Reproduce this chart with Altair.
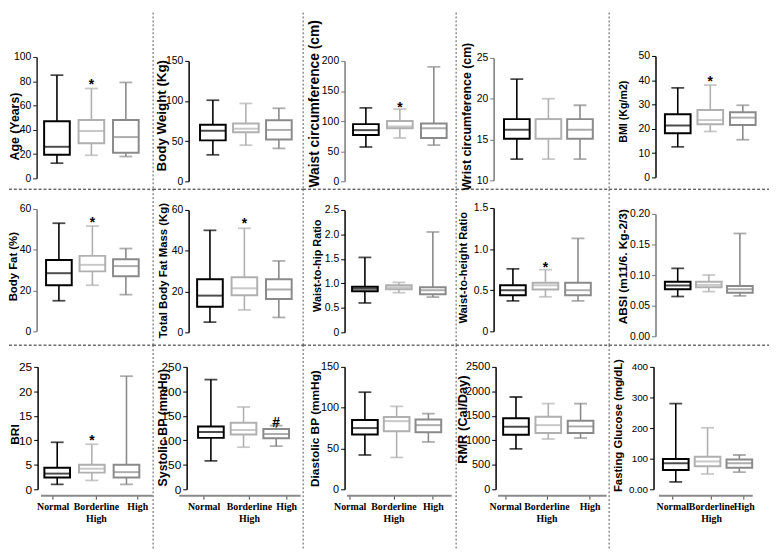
import altair as alt
import pandas as pd

groups = ["Normal", "Borderline High", "High"]
group_colors = ["#000000", "#b0b0b0", "#8a8a8a"]

# five-number summaries per group: [min, Q1, median, Q3, max]
age = [[12.5, 19.5, 26.0, 47.0, 85.0], [19.0, 29.0, 39.0, 48.0, 74.0], [18.0, 21.0, 34.0, 48.0, 79.0]]
body_weight = [[33, 51, 63, 70.5, 101], [45, 61, 65.5, 72, 97], [41, 52, 64, 76, 91]]
waist_circ = [[57, 77, 85, 95, 122], [72, 88, 91, 100, 120], [60, 72, 88, 96, 190]]
wrist_circ = [[12.6, 15.1, 16.2, 17.5, 22.4], [12.6, 15.1, 17.5, 17.5, 20.0], [12.6, 15.1, 16.2, 17.5, 19.2]]
bmi = [[12.6, 18.2, 21.4, 26.0, 36.9], [18.9, 21.9, 23.6, 27.7, 38.0], [15.5, 21.6, 24.6, 26.8, 29.7]]
body_fat = [[15.0, 22.6, 28.5, 35.0, 53.0], [22.6, 29.4, 32.6, 37.0, 51.6], [18.0, 27.0, 32.0, 35.3, 40.6]]
fat_mass = [[5.0, 12.5, 18.0, 26.0, 50.0], [11.0, 18.2, 21.6, 27.0, 51.0], [7.3, 16.3, 21.0, 26.0, 35.0]]
waist_hip = [[0.60, 0.84, 0.89, 0.93, 1.53], [0.81, 0.88, 0.92, 0.96, 1.02], [0.72, 0.78, 0.86, 0.92, 2.05]]
waist_height = [[0.37, 0.44, 0.50, 0.56, 0.76], [0.42, 0.51, 0.56, 0.59, 0.75], [0.37, 0.44, 0.50, 0.59, 1.13]]
absi = [[0.065, 0.077, 0.083, 0.089, 0.111], [0.073, 0.080, 0.084, 0.089, 0.100], [0.066, 0.071, 0.077, 0.082, 0.168]]
bri = [[1.0, 2.4, 3.2, 4.4, 9.6], [1.8, 3.4, 4.2, 5.0, 9.2], [1.0, 2.4, 3.5, 5.0, 23.1]]
systolic = [[58, 105, 117, 128, 224], [86, 112, 121, 136, 168], [88, 104, 113, 123, 130]]
diastolic = [[42, 67, 75, 85, 119], [39, 71, 83.5, 88.7, 101.6], [58, 70, 78.6, 85.5, 92.7]]
rmr = [[824, 1115, 1277, 1453, 1885], [1027, 1149, 1310, 1480, 1750], [1047, 1149, 1284, 1399, 1750]]
glucose = [[24, 63, 85, 99, 280], [50, 75, 91, 106, 201], [56, 70, 85, 97, 112]]

# significance markers: (group index, value, symbol)
age_marks = [(1, 80, "*")]
waist_marks = [(1, 129, "*")]
bmi_marks = [(1, 41, "*")]
body_fat_marks = [(1, 55, "*")]
fat_mass_marks = [(1, 55, "*")]
waist_height_marks = [(1, 0.82, "*")]
bri_marks = [(1, 10.6, "*")]
systolic_marks = [(2, 144, "#")]

# axis ticks
age_ticks = [0, 20, 40, 60, 80, 100]
bw_ticks = [0, 50, 100, 150]
waist_ticks = [0, 50, 100, 150, 200]
wrist_ticks = [10, 15, 20, 25]
bmi_ticks = [0, 10, 20, 30, 40, 50]
bf_ticks = [0, 20, 40, 60]
fm_ticks = [0, 20, 40, 60]
whr_ticks = [0, 0.5, 1.0, 1.5, 2.0, 2.5]
whtr_ticks = [0, 0.5, 1.0, 1.5]
absi_ticks = [0, 0.05, 0.10, 0.15, 0.20]
bri_ticks = [0, 5, 10, 15, 20, 25]
sbp_ticks = [0, 50, 100, 150, 200, 250]
dbp_ticks = [0, 50, 100, 150]
rmr_ticks = [0, 500, 1000, 1500, 2000, 2500]
fg_ticks = [0, 100, 200, 300, 400]

INT = "format(datum.value, 'd')"
ONE = "datum.value == 0 ? '0' : format(datum.value, '.1f')"
TWO = "format(datum.value, '.2f')"
FGF = "datum.value == 0 ? '0.00' : format(datum.value, 'd')"

col_w = [146, 152, 155, 155, 162]
row_h = [179, 158, 208]

# layout: axis_x, y_top, y_bottom, first centre, last centre, title x, title y, title size, axis colour, label size
panels = [
    [
        ("Age (Years)", age, age_ticks, age_marks, INT, (28, 45, 168, 45, 122, 6, 115, 12.5, "#222", 10.5)),
        ("Body Weight (Kg)", body_weight, bw_ticks, [], INT, (36, 49, 171, 57, 131, 9, 104, 13.5, "#000", 10.5)),
        ("Waist circumference (cm)", waist_circ, waist_ticks, waist_marks, INT, (42, 49, 171, 60, 136, 12, 92, 14, "#777", 10.5)),
        ("Wrist circumference (cm)", wrist_circ, wrist_ticks, [], INT, (38, 46, 170, 58, 129, 11, 105, 12.5, "#777", 10.5)),
        ("BMI (Kg/m2)", bmi, bmi_ticks, bmi_marks, INT, (47, 44, 167, 66, 139, 15, 100, 10.8, "#000", 10.5)),
    ],
    [
        ("Body Fat (%)", body_fat, bf_ticks, body_fat_marks, INT, (28, 20, 144, 47, 122, 5, 78, 11.5, "#777", 10.5)),
        ("Total Body Fat Mass (Kg)", fat_mass, fm_ticks, fat_mass_marks, INT, (36, 21, 145, 54, 131, 11, 82, 11.5, "#000", 10.5)),
        ("Waist-to-hip Ratio", waist_hip, whr_ticks, [], ONE, (42, 21, 145, 59, 135, 15, 77, 11, "#000", 10.5)),
        ("Waist-to-height Ratio", waist_height, whtr_ticks, waist_height_marks, ONE, (38, 19, 144, 54, 127, 8, 79, 11.3, "#000", 10.5)),
        ("ABSI (m11/6. Kg-2/3)", absi, absi_ticks, [], TWO, (47, 25, 149, 66, 136, 14, 78, 12, "#777", 10.5)),
    ],
    [
        ("BRI", bri, bri_ticks, bri_marks, INT, (29, 22, 146, 45, 122, 6, 90, 12, "#000", 12), (32, 145), (40, 88, 134)),
        ("Systolic BP (mmHg)", systolic, sbp_ticks, systolic_marks, INT, (34, 22, 146, 56, 128, 10, 83, 12.5, "#000", 12), (26, 149), (48, 98, 139)),
        ("Diastolic BP (mmHg)", diastolic, dbp_ticks, [], INT, (42, 22, 146, 59, 130, 12, 84, 12, "#000", 11), (44, 150), (42, 91, 135)),
        ("RMR (Cal/Day)", rmr, rmr_ticks, [], INT, (40, 22, 146, 57, 129, 7, 75, 13, "#000", 11), (42, 152), (45, 91, 139)),
        ("Fasting Glucose (mg/dL)", glucose, fg_ticks, [], FGF, (45, 22, 146, 64, 136, 10, 81, 11.5, "#000", 10), (50, 145), (60, 104, 141)),
    ],
]

XLAB = "datum.value < 0.5 ? 'Normal' : datum.value < 1.5 ? ['Borderline', 'High'] : 'High'"
X_AXIS_Y = 152


def make_panel(spec, W, H, right_sep, bottom_sep):
    title, stats, ticks, marks, fmt, geo = spec[:6]
    xgeo = spec[6] if len(spec) > 6 else None
    xticks_px = spec[7] if len(spec) > 7 else None
    ax, top, bot, c0, c2, tx, ty, tsize, acol, lsize = geo
    df = pd.DataFrame({
        "idx": [0, 1, 2],
        "group": groups,
        "lo": [s[0] for s in stats],
        "q1": [s[1] for s in stats],
        "med": [s[2] for s in stats],
        "q3": [s[3] for s in stats],
        "hi": [s[4] for s in stats],
    })
    k = (c2 - c0) / 2.0
    L, R = xgeo if xgeo else (c0 - 15, c2 + 15)
    xs = alt.Scale(domain=[-(c0 - L) / k, 2 + (R - c2) / k], range=[L, R], nice=False, zero=False)
    if xgeo:
        tick_vals = [(t - c0) / k for t in xticks_px]
        xa = alt.Axis(values=tick_vals, labelExpr=XLAB, offset=-(H - X_AXIS_Y), domainColor="#8a8a8a",
                      domainWidth=2, tickColor="#444", tickSize=4, tickWidth=1, labelFont="Liberation Serif",
                      labelFontWeight="bold", labelFontSize=10, labelColor="#000", labelAngle=0,
                      labelPadding=3, grid=False, labelFlush=False, labelOverlap=False, title=None)
    else:
        xa = None
    ys = alt.Scale(domain=[ticks[0], ticks[-1]], range=[bot, top], nice=False, zero=False)
    ya = alt.Axis(values=ticks, labelExpr=fmt, offset=-ax, grid=False, domainColor=acol, domainWidth=1.5,
                  tickColor=acol, tickSize=4, tickWidth=1, labelFont="Liberation Sans", labelFontSize=lsize,
                  labelColor="#000", labelPadding=2, labelFlush=False, labelOverlap=False,
                  titleFont="Liberation Sans", titleFontWeight="bold", titleFontSize=tsize, titleColor="#000",
                  titleAngle=270, titleAlign="center", titleBaseline="middle", titleX=tx - ax, titleY=ty)
    X = alt.X("idx:Q", scale=xs, axis=xa, title=None)

    def Y(field):
        return alt.Y(field, type="quantitative", scale=ys, axis=ya, title=title)

    stroke = alt.Stroke("group:N", scale=alt.Scale(domain=groups, range=group_colors), legend=None)
    color = alt.Color("group:N", scale=alt.Scale(domain=groups, range=group_colors), legend=None)
    base = alt.Chart(df)
    layers = [
        base.mark_rule(strokeWidth=1.6).encode(x=X, y=Y("lo"), y2="hi", color=color),
        base.mark_bar(size=26, fill="white", strokeWidth=2).encode(x=X, y=Y("q1"), y2="q3", stroke=stroke),
        base.mark_tick(orient="horizontal", size=26, thickness=2).encode(x=X, y=Y("med"), color=color),
        base.mark_tick(orient="horizontal", size=13, thickness=1.8).encode(x=X, y=Y("lo"), color=color),
        base.mark_tick(orient="horizontal", size=13, thickness=1.8).encode(x=X, y=Y("hi"), color=color),
    ]
    if marks:
        mdf = pd.DataFrame({"idx": [m[0] for m in marks], "v": [m[1] for m in marks], "sym": [m[2] for m in marks]})
        layers.append(alt.Chart(mdf).mark_text(font="Liberation Sans", fontSize=14, fontWeight="bold",
                                               color="#000", baseline="middle", dy=4).encode(
            x=X, y=Y("v"), text="sym:N"))
    one = alt.Chart(pd.DataFrame({"a": [0]}))
    if right_sep:
        layers.append(one.mark_rule(color="#555", strokeWidth=1, strokeDash=[2, 2]).encode(
            x=alt.value(W), y=alt.value(0), y2=alt.value(H)))
    if bottom_sep:
        layers.append(one.mark_rule(color="#222", strokeWidth=1, strokeDash=[3, 2]).encode(
            x=alt.value(0), x2=alt.value(W), y=alt.value(H)))
    return alt.layer(*layers).properties(width=W, height=H)


cells = []
for r, row in enumerate(panels):
    for c, spec in enumerate(row):
        cells.append(make_panel(spec, col_w[c], row_h[r], c < 4, r < 2))

chart = alt.concat(*cells, columns=5, spacing=0, bounds="flush").properties(padding=0).configure_view(stroke=None)
chart.save("out.html", embed_options={"renderer": "svg", "actions": False})
